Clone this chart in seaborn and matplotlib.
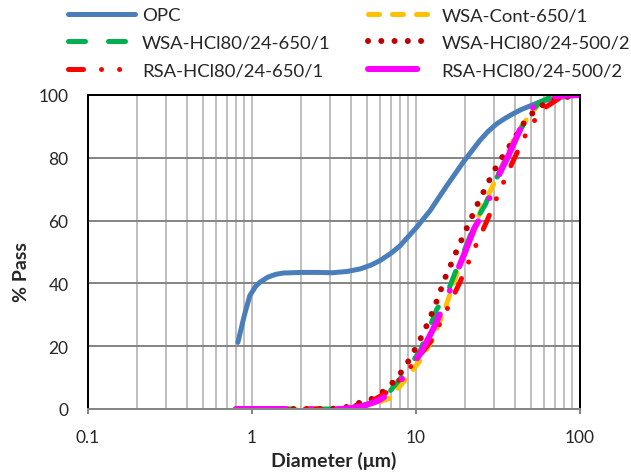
import numpy as np
import pandas as pd
import matplotlib
matplotlib.use("Agg")
import matplotlib.pyplot as plt
import matplotlib.ticker as mticker
import seaborn as sns

# ── Data ────────────────────────────────────────────────────────────────────
opc_x = [0.82, 0.9, 0.97, 1.05, 1.12, 1.25, 1.4, 1.55, 2.0, 2.5, 3.1, 3.8, 4.56,
         5.3, 6.0, 7.0, 8.0, 10.1, 12.2, 15.4, 19.4, 24.5, 27.5, 31.0, 35.0,
         39.0, 44.0, 49.5, 57.0, 70.0, 85.0, 100.0]
opc_y = [21.2, 30.0, 36.1, 39.0, 40.4, 42.0, 42.9, 43.3, 43.5, 43.5, 43.4, 43.8,
         44.6, 45.8, 47.2, 49.5, 52.0, 57.9, 63.2, 71.1, 78.6, 85.5, 88.4, 90.8,
         92.6, 94.0, 95.4, 96.5, 97.8, 99.0, 99.6, 100.0]

cont_x = [0.8, 1.0, 1.5, 2.0, 3.0, 3.6, 4.2, 5.0, 6.0, 6.9, 8.5, 10.6, 12.8, 15.4,
          17.2, 20.4, 22.7, 25.1, 31.0, 39.2, 44.0, 50.0, 56.0, 65.0, 80.0, 100.0]
cont_y = [0.0, 0.0, 0.0, 0.0, 0.0, 0.0, 0.5, 1.2, 2.3, 3.4, 9.0, 15.5, 22.8, 33.5,
          41.0, 52.0, 58.0, 63.7, 73.5, 85.5, 90.0, 94.0, 97.0, 99.0, 99.8, 100.0]

hcl650_x = [0.79, 1.0, 1.5, 2.0, 3.0, 3.6, 4.2, 5.0, 6.0, 6.9, 8.0, 10.6, 13.4,
            15.4, 17.2, 19.9, 23.5, 26.4, 31.0, 38.3, 44.0, 50.0, 56.0, 65.0,
            80.0, 100.0]
hcl650_y = [0.0, 0.0, 0.0, 0.0, 0.0, 0.0, 0.6, 1.5, 3.0, 5.5, 9.6, 18.5, 31.8,
            36.5, 43.0, 51.0, 60.5, 65.0, 73.5, 83.3, 89.5, 94.0, 97.5, 99.2,
            99.9, 100.0]

hcl500_x = [0.85, 1.35, 2.0, 3.0, 3.7, 5.5, 6.4, 7.4, 8.4, 9.3, 10.2, 11.2, 12.1,
            13.1, 14.0, 15.0, 16.3, 17.7, 19.2, 20.8, 22.6, 24.5, 27.0, 29.4,
            32.5, 36.2, 40.7, 45.1, 51.5, 60.0, 72.0, 100.0]
hcl500_y = [0.0, 0.0, 0.0, 0.0, 0.5, 3.4, 5.8, 9.0, 12.7, 16.5, 20.4, 24.7, 28.7,
            33.1, 37.2, 41.6, 45.9, 50.4, 54.5, 58.6, 62.8, 66.9, 71.1, 75.2,
            79.1, 82.8, 87.0, 90.8, 94.3, 97.0, 98.9, 100.0]

rsa650_x = [0.8, 1.2, 2.0, 3.0, 3.6, 4.2, 5.4, 6.5, 8.0, 10.0, 12.4, 15.0, 18.5,
            22.2, 26.7, 31.8, 38.3, 46.3, 53.0, 61.2, 75.0, 100.0]
rsa650_y = [0.0, 0.0, 0.0, 0.0, 0.0, 1.0, 2.6, 5.0, 9.5, 15.5, 21.8, 30.3, 40.3,
            49.9, 59.2, 68.5, 78.0, 87.0, 92.0, 96.0, 99.0, 100.0]

rsa500_x = [0.8, 1.0, 1.5, 2.0, 2.5, 3.0, 3.5, 4.0, 4.8, 5.8, 6.9, 8.5, 10.6, 12.8,
            15.4, 17.2, 19.9, 22.7, 26.4, 31.0, 36.6, 42.7, 48.0, 54.5, 65.0,
            80.0, 100.0]
rsa500_y = [0.0, 0.0, 0.0, 0.0, 0.0, 0.0, 0.0, 0.3, 1.0, 2.5, 4.8, 10.5, 17.5,
            25.7, 35.0, 42.0, 49.9, 57.6, 63.7, 73.0, 80.7, 88.6, 93.5, 97.7,
            99.3, 99.9, 100.0]

labels = ['OPC', 'WSA-Cont-650/1', 'WSA-HCl80/24-650/1', 'WSA-HCl80/24-500/2',
          'RSA-HCl80/24-650/1', 'RSA-HCl80/24-500/2']
xticks = [0.1, 1, 10, 100]
xtick_labels = ['0.1', '1', '10', '100']
yticks = [0, 20, 40, 60, 80, 100]

# ── Style settings ───────────────────────────────────────────────────────────
sns.set_style('white')
plt.rcParams['font.family'] = ['Lato', 'DejaVu Sans']
FS = 12.5     # tick labels
LFS = 13.3    # legend
AFS = 14      # axis titles
PX = 0.72     # one pixel in points at dpi 100

series = [
    (opc_x, opc_y, '#4A7EBB', 5, '-'),
    (cont_x, cont_y, '#FFC000', 5, (0, (2.2, 2.6))),
    (hcl650_x, hcl650_y, '#00B050', 5, (0, (3.4, 4.6))),
    (hcl500_x, hcl500_y, '#C00000', 6, (0, (0.01, 2.2))),
    (rsa650_x, rsa650_y, '#FF0000', 5, (0, (3.0, 3.6, 0.01, 3.6, 0.01, 3.6))),
    (rsa500_x, rsa500_y, '#FF00FF', 6, (0, (8.2, 4.3, 0.01, 4.3))),
]

fig = plt.figure(figsize=(6.31, 4.77), dpi=100)
ax = fig.add_axes([88 / 631, 67 / 477, 492 / 631, 314 / 477])
ax.set_xscale('log')

for (xs, ys, color, lw, ls), lab in zip(series, labels):
    df = pd.DataFrame({'x': xs, 'y': ys})
    sns.lineplot(data=df, x='x', y='y', ax=ax, color=color, lw=lw * PX,
                 linestyle=ls, estimator=None, sort=False, label=lab,
                 solid_capstyle='round', dash_capstyle='round')

ax.set_xlim(0.1, 100)
ax.set_ylim(0, 100)
ax.set_xticks(xticks)
ax.xaxis.set_major_formatter(mticker.FixedFormatter(xtick_labels))
ax.xaxis.set_minor_locator(mticker.LogLocator(base=10, subs=np.arange(2, 10)))
ax.xaxis.set_minor_formatter(mticker.NullFormatter())
ax.set_yticks(yticks)

# gridlines: light vertical, darker horizontal
ax.grid(True, which='both', axis='x', color='#BFBFBF', lw=2 * PX)
ax.grid(True, which='major', axis='y', color='#868686', lw=2 * PX)
ax.set_axisbelow(True)

for side in ['left', 'top', 'right']:
    ax.spines[side].set_color('black')
    ax.spines[side].set_linewidth(2 * PX)
ax.spines['bottom'].set_color('#868686')
ax.spines['bottom'].set_linewidth(2 * PX)

ax.tick_params(axis='x', which='major', direction='out', length=5 * PX,
               width=2 * PX, color='#868686', labelsize=FS, pad=11, bottom=True)
ax.tick_params(axis='x', which='minor', length=0)
ax.tick_params(axis='y', length=0, labelsize=FS, pad=14)

ax.set_xlabel('Diameter (μm)', fontsize=AFS, fontweight='bold', labelpad=4)
ax.set_ylabel('% Pass', fontsize=AFS, fontweight='bold')
ax.yaxis.set_label_coords(-0.118, 0.44)

handles, labs = ax.get_legend_handles_labels()
order = [0, 2, 4, 1, 3, 5]
ax.legend([handles[i] for i in order], [labs[i] for i in order], ncol=2,
          loc='upper left', bbox_to_anchor=(68 / 631, 1 - 8 / 477),
          bbox_transform=fig.transFigure, frameon=False, fontsize=LFS,
          handlelength=3.6, handletextpad=0.4, columnspacing=2.0,
          labelspacing=0.64, borderpad=0, borderaxespad=0)

plt.savefig('out.png', dpi=100)
plt.close()
